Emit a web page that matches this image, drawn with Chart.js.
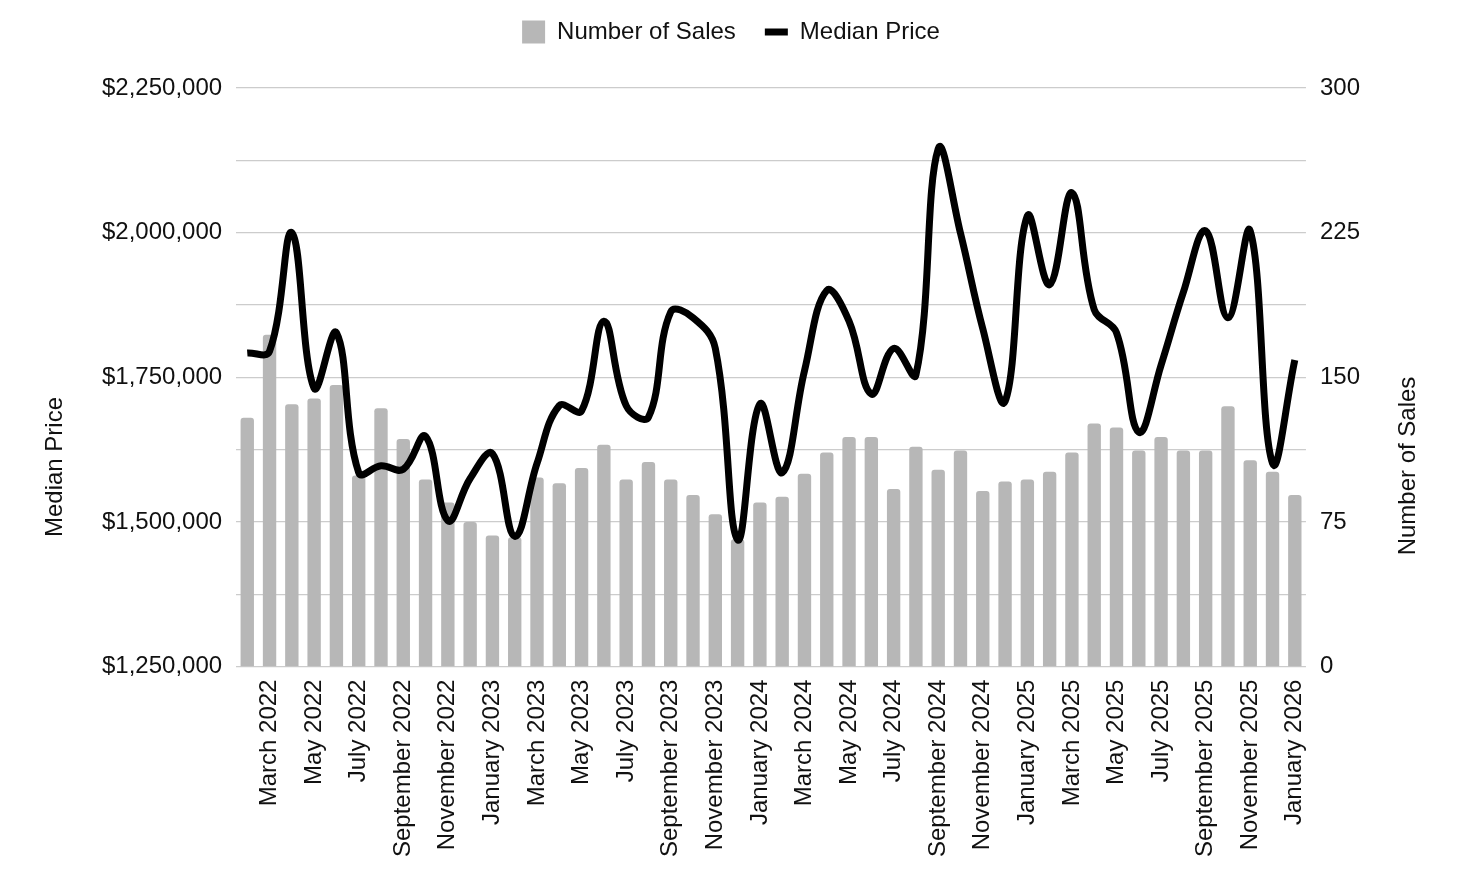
<!DOCTYPE html>
<html>
<head>
<meta charset="utf-8">
<script src="https://cdn.jsdelivr.net/npm/chart.js@4.4.1/dist/chart.umd.min.js"></script>
<style>
  html, body { margin: 0; padding: 0; background: #fff; }
  #wrap { width: 1462px; height: 894px; }
</style>
</head>
<body>
<div id="wrap"><canvas id="salesChart" width="1462" height="894"></canvas></div>
<script>
// months, Feb 2022 .. Jan 2026
const months = [
  'February 2022', 'March 2022', 'April 2022', 'May 2022', 'June 2022', 'July 2022',
  'August 2022', 'September 2022', 'October 2022', 'November 2022', 'December 2022', 'January 2023',
  'February 2023', 'March 2023', 'April 2023', 'May 2023', 'June 2023', 'July 2023',
  'August 2023', 'September 2023', 'October 2023', 'November 2023', 'December 2023', 'January 2024',
  'February 2024', 'March 2024', 'April 2024', 'May 2024', 'June 2024', 'July 2024',
  'August 2024', 'September 2024', 'October 2024', 'November 2024', 'December 2024', 'January 2025',
  'February 2025', 'March 2025', 'April 2025', 'May 2025', 'June 2025', 'July 2025',
  'August 2025', 'September 2025', 'October 2025', 'November 2025', 'December 2025', 'January 2026'
];

const salesCount = [
  129, 172, 136, 139, 146, 99, 134, 118, 97, 85, 75, 68,
  67, 98, 95, 103, 115, 97, 106, 97, 89, 79, 66, 85,
  88, 100, 111, 119, 119, 92, 114, 102, 112, 91, 96, 97,
  101, 111, 126, 124, 112, 119, 112, 112, 135, 107, 101, 89
];

const medianPrice = [
  1792000, 1795000, 2000000, 1731000, 1827000, 1585000, 1597000, 1591000, 1648000, 1502000, 1575000, 1618000,
  1475000, 1601000, 1701000, 1692000, 1847000, 1701000, 1681000, 1863000, 1853000, 1800000, 1469000, 1704000,
  1585000, 1761000, 1900000, 1847000, 1721000, 1800000, 1754000, 2145000, 1999000, 1834000, 1708000, 2029000,
  1910000, 2069000, 1867000, 1827000, 1655000, 1771000, 1897000, 2003000, 1853000, 2003000, 1601000, 1780000
];

// axis ranges / tick labels
const priceMin = 1250000;
const priceMax = 2250000;
const priceTicks = [1250000, 1500000, 1750000, 2000000, 2250000];
const salesMin = 0;
const salesMax = 300;
const salesTicks = [0, 75, 150, 225, 300];

const FONT = "'Liberation Sans', Arial, sans-serif";
const TEXT = '#111';

// rotated axis titles (both read bottom-to-top)
const axisTitles = {
  id: 'axisTitles',
  afterDraw(chart) {
    const ctx = chart.ctx;
    ctx.save();
    ctx.font = '24px ' + FONT;
    ctx.fillStyle = TEXT;
    ctx.textAlign = 'center';
    ctx.textBaseline = 'middle';
    [['Median Price', 55, 467], ['Number of Sales', 1408, 466]].forEach(([t, x, y]) => {
      ctx.save();
      ctx.translate(x, y);
      ctx.rotate(-Math.PI / 2);
      ctx.fillText(t, 0, 0);
      ctx.restore();
    });
    ctx.restore();
  }
};

// more room under the legend
const legendSpacer = {
  id: 'legendSpacer',
  beforeInit(chart) {
    const fit = chart.legend.fit;
    chart.legend.fit = function () {
      fit.bind(chart.legend)();
      this.height += 34;
    };
  }
};

new Chart(document.getElementById('salesChart').getContext('2d'), {
  data: {
    labels: months,
    datasets: [
      {
        type: 'line',
        label: 'Median Price',
        data: medianPrice,
        yAxisID: 'yPrice',
        borderColor: '#000',
        borderWidth: 7,
        tension: 0.4,
        pointRadius: 0,
        pointHoverRadius: 0,
        pointStyle: 'line',
        pointBorderColor: '#000',
        pointBorderWidth: 7,
        fill: false,
        order: 0
      },
      {
        type: 'bar',
        label: 'Number of Sales',
        data: salesCount,
        yAxisID: 'ySales',
        backgroundColor: '#b7b7b7',
        borderWidth: 0,
        borderRadius: { topLeft: 3, topRight: 3 },
        borderSkipped: 'bottom',
        barPercentage: 0.6,
        categoryPercentage: 1.0,
        pointStyle: 'rect',
        order: 1
      }
    ]
  },
  options: {
    responsive: false,
    animation: false,
    layout: { padding: { left: 88, right: 88, top: -9, bottom: 24 } },
    plugins: {
      legend: {
        position: 'top',
        reverse: true,
        labels: {
          usePointStyle: true,
          pointStyleWidth: 23,
          boxWidth: 33,
          boxHeight: 23,
          padding: 29,
          color: TEXT,
          font: { family: FONT, size: 24 }
        }
      },
      tooltip: { enabled: false }
    },
    scales: {
      x: {
        grid: { display: false, drawTicks: false },
        border: { display: false },
        ticks: {
          autoSkip: false,
          minRotation: 90,
          maxRotation: 90,
          padding: 13,
          color: TEXT,
          font: { family: FONT, size: 24 },
          callback: (v, i) => (i % 2 === 1 ? months[i] : '')
        }
      },
      yPrice: {
        position: 'left',
        min: priceMin,
        max: priceMax,
        grid: { color: '#cccccc', lineWidth: 1.2, drawTicks: false },
        border: { display: false },
        ticks: {
          stepSize: 125000,
          padding: 14,
          color: TEXT,
          font: { family: FONT, size: 24 },
          callback: v => (priceTicks.includes(v) ? '$' + v.toLocaleString('en-US') : '')
        }
      },
      ySales: {
        position: 'right',
        min: salesMin,
        max: salesMax,
        grid: { display: false, drawTicks: false },
        border: { display: false },
        ticks: {
          stepSize: 75,
          padding: 14,
          color: TEXT,
          font: { family: FONT, size: 24 },
          callback: v => (salesTicks.includes(v) ? String(v) : '')
        }
      }
    }
  },
  plugins: [axisTitles, legendSpacer]
});
</script>
</body>
</html>
